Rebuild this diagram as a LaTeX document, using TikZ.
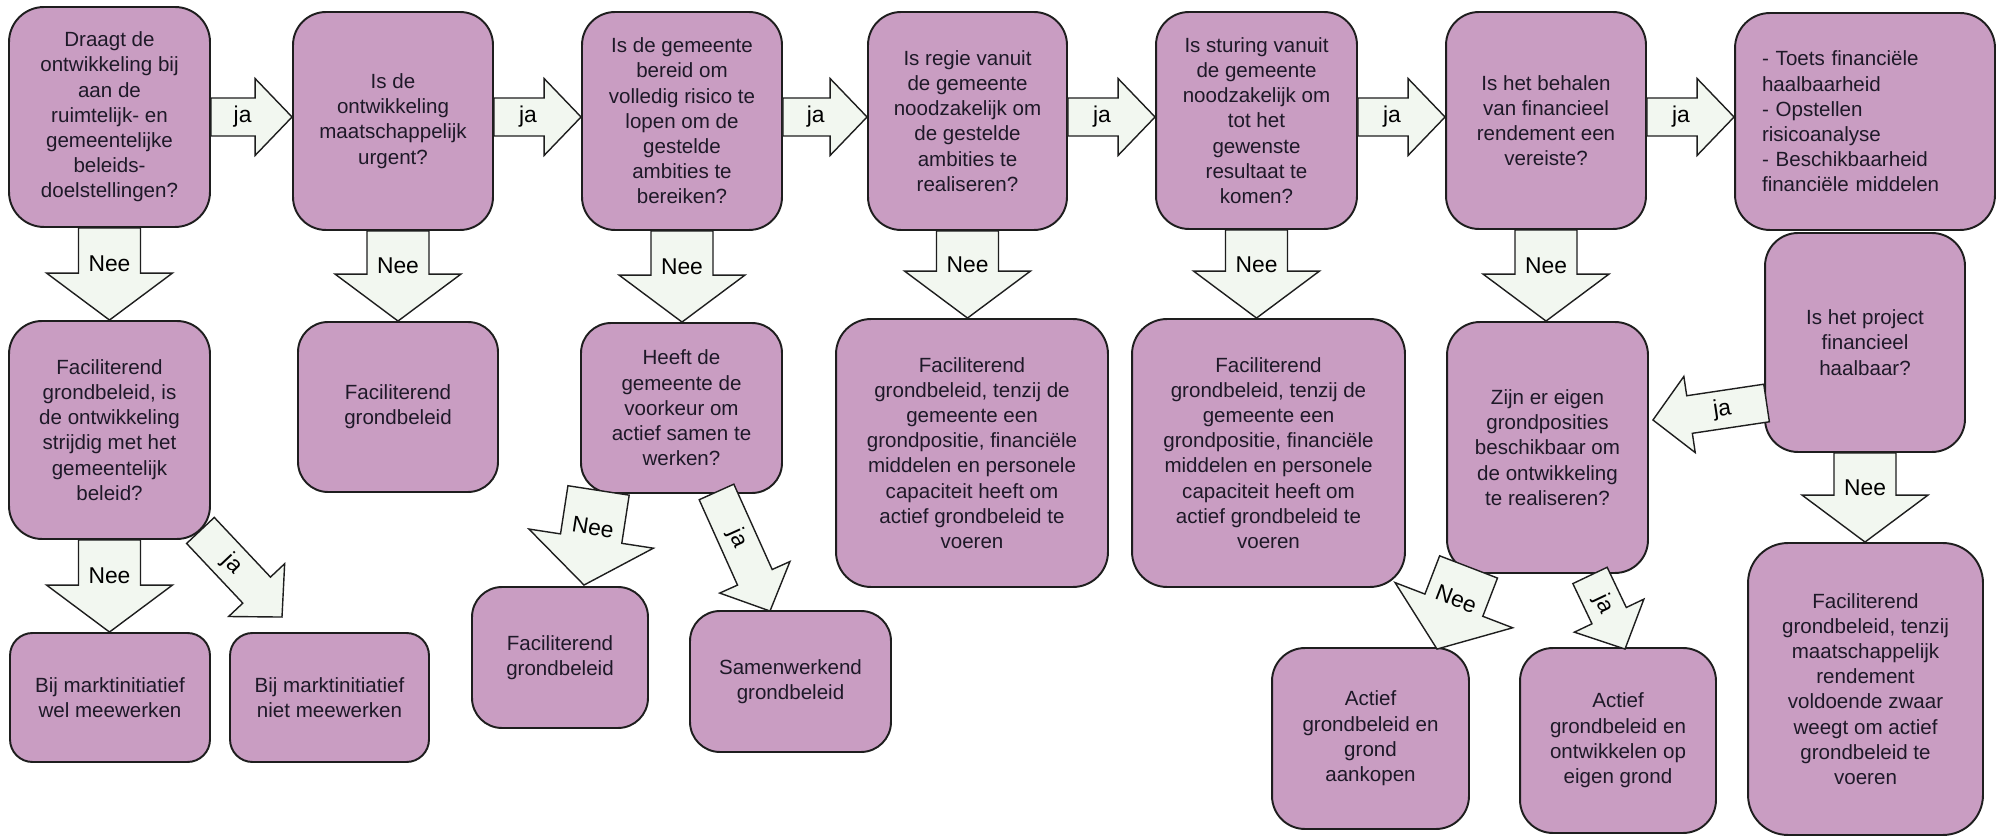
\documentclass[tikz,border=0pt]{standalone}
\usepackage{fontspec}
\setmainfont{Liberation Sans}
\usetikzlibrary{calc}
\definecolor{boxfill}{RGB}{201,157,194}
\definecolor{arrowfill}{RGB}{242,247,240}
\definecolor{inkline}{RGB}{30,30,30}
\definecolor{inktext}{RGB}{30,25,40}
\tikzset{
	keuze/.style={draw=inkline, line width=1.1pt, fill=boxfill, rounded corners=0.66cm, align=center, text=inktext, inner sep=0pt, font=\fontsize{11.7}{14.35}\selectfont},
	blockarrow/.style={draw=inkline, line width=0.8pt, fill=arrowfill},
	arrowlabel/.style={text=black, inner sep=0pt, font=\fontsize{13}{15}\selectfont}
}
% block arrow: [half shaft:half head:head length](from)(to){label}{extra label rotation}
\def\blockarr[#1:#2:#3](#4)(#5)#6#7{%
	\coordinate (ba-a) at (#4);
	\coordinate (ba-b) at (#5);
	\coordinate (ba-h) at ($(ba-b)!#3!(ba-a)$);
	\draw[blockarrow] ($(ba-a)!#1!90:(ba-b)$) -- ($(ba-h)!#1!90:(ba-b)$) -- ($(ba-h)!#2!90:(ba-b)$) -- (ba-b)
		-- ($(ba-h)!#2!-90:(ba-b)$) -- ($(ba-h)!#1!-90:(ba-b)$) -- ($(ba-a)!#1!-90:(ba-b)$) -- cycle;
	\path let \p1=($(ba-b)-(ba-a)$), \n1={atan2(\y1,\x1)+#7} in
		node[arrowlabel, rotate=\n1] at ($(ba-a)!0.39!(ba-b)$) {#6};
}
\def\jaarr(#1)(#2)#3{\blockarr[0.38cm:0.77cm:0.74cm](#1)(#2){ja}{#3}}
\def\neearr(#1)(#2){\blockarr[0.62cm:1.26cm:0.94cm](#1)(#2){Nee}{90}}

\begin{document}
\begin{tikzpicture}[x=0.02cm, y=-0.02cm]
			%%%%% START %%%%%
			
			\useasboundingbox (0,0) rectangle (1998,837);
			\fill[white] (0,0) rectangle (1998,837);
			
			% top row of questions
			\node[keuze, minimum width=4.02cm, minimum height=4.40cm, rounded corners=0.7cm] (q1) at (109.5,117) {Draagt de\\ontwikkeling bij\\aan de\\ruimtelijk- en\\gemeentelijke\\beleids-\\doelstellingen?};
			\node[keuze, minimum width=4.00cm, minimum height=4.36cm] (q2) at (393,121) {Is de\\ontwikkeling\\maatschappelijk\\urgent?};
			\node[keuze, minimum width=4.00cm, minimum height=4.36cm] (q3) at (682,121) {Is de gemeente\\bereid om\\volledig risico te\\lopen om de\\gestelde\\ambities te\\bereiken?};
			\node[keuze, minimum width=3.98cm, minimum height=4.36cm] (q4) at (967.5,121) {Is regie vanuit\\de gemeente\\noodzakelijk om\\de gestelde\\ambities te\\realiseren?};
			\node[keuze, minimum width=4.02cm, minimum height=4.34cm] (q5) at (1256.5,120.5) {Is sturing vanuit\\de gemeente\\noodzakelijk om\\tot het\\gewenste\\resultaat te\\komen?};
			\node[keuze, minimum width=4.00cm, minimum height=4.34cm] (q6) at (1546,120.5) {Is het behalen\\van financieel\\rendement een\\vereiste?};
			\node[keuze, minimum width=5.20cm, minimum height=4.34cm, rounded corners=0.7cm, align=left, text width=4.12cm] (q7) at (1865,121.5) {- Toets financiële\\haalbaarheid\\- Opstellen\\risicoanalyse\\- Beschikbaarheid\\financiële middelen};
			\node[keuze, minimum width=4.00cm, minimum height=4.38cm] (q8) at (1865,342.5) {Is het project\\financieel\\haalbaar?};
			
			% second and third row
			\node[keuze, minimum width=4.02cm, minimum height=4.36cm] (r1) at (109.5,430) {Faciliterend\\grondbeleid, is\\de ontwikkeling\\strijdig met het\\gemeentelijk\\beleid?};
			\node[keuze, minimum width=4.00cm, minimum height=3.40cm, rounded corners=0.6cm] (r2) at (398,407) {Faciliterend\\grondbeleid};
			\node[keuze, minimum width=4.00cm, minimum height=2.58cm, rounded corners=0.45cm] (r1a) at (110,697.5) {Bij marktinitiatief\\wel meewerken};
			\node[keuze, minimum width=3.98cm, minimum height=2.58cm, rounded corners=0.45cm] (r1b) at (329.5,697.5) {Bij marktinitiatief\\niet meewerken};
			\node[keuze, minimum width=4.02cm, minimum height=3.40cm, rounded corners=0.6cm] (q3b) at (681.5,408) {Heeft de\\gemeente de\\voorkeur om\\actief samen te\\werken?};
			\node[keuze, minimum width=3.52cm, minimum height=2.82cm, rounded corners=0.6cm] (r3a) at (560,657.5) {Faciliterend\\grondbeleid};
			\node[keuze, minimum width=4.02cm, minimum height=2.82cm, rounded corners=0.6cm] (r3b) at (790.5,681.5) {Samenwerkend\\grondbeleid};
			\node[keuze, minimum width=5.44cm, minimum height=5.36cm, rounded corners=0.7cm] (r4) at (972,453) {Faciliterend\\grondbeleid, tenzij de\\gemeente een\\grondpositie, financiële\\middelen en personele\\capaciteit heeft om\\actief grondbeleid te\\voeren};
			\node[keuze, minimum width=5.46cm, minimum height=5.36cm, rounded corners=0.7cm] (r5) at (1268.5,453) {Faciliterend\\grondbeleid, tenzij de\\gemeente een\\grondpositie, financiële\\middelen en personele\\capaciteit heeft om\\actief grondbeleid te\\voeren};
			\node[keuze, minimum width=4.02cm, minimum height=5.02cm] (r6) at (1547.5,447.5) {Zijn er eigen\\grondposities\\beschikbaar om\\de ontwikkeling\\te realiseren?};
			\node[keuze, minimum width=3.94cm, minimum height=3.62cm] (r7a) at (1370.5,738.5) {Actief\\grondbeleid en\\grond\\aankopen};
			\node[keuze, minimum width=3.92cm, minimum height=3.70cm] (r7b) at (1618,740.5) {Actief\\grondbeleid en\\ontwikkelen op\\eigen grond};
			\node[keuze, minimum width=4.70cm, minimum height=5.84cm, rounded corners=0.8cm] (r8) at (1865.5,689) {Faciliterend\\grondbeleid, tenzij\\maatschappelijk\\rendement\\voldoende zwaar\\weegt om actief\\grondbeleid te\\voeren};
			
			% ja arrows along the top
			\coordinate (jarow) at (0,117);
			\jaarr(q1.east |- jarow)(q2.west |- jarow){0}
			\jaarr(q2.east |- jarow)(q3.west |- jarow){0}
			\jaarr(q3.east |- jarow)(q4.west |- jarow){0}
			\jaarr(q4.east |- jarow)(q5.west |- jarow){0}
			\jaarr(q5.east |- jarow)(q6.west |- jarow){0}
			\jaarr(q6.east |- jarow)(q7.west |- jarow){0}
			
			% Nee arrows straight down
			\neearr(q1.south)(r1.north)
			\neearr(q2.south -| r2.north)(r2.north)
			\neearr(q3.south)(q3.south |- q3b.north)
			\neearr(q4.south)(q4.south |- r4.north)
			\neearr(q5.south)(q5.south |- r5.north)
			\neearr(q6.south)(q6.south |- r6.north)
			\neearr(r1.south)(r1.south |- r1a.north)
			\neearr(q8.south)(q8.south |- r8.north)
			
			% slanted arrows
			\coordinate (r1-ja) at ($(r1.south east)+(-10.5,-9.5)$);
			\coordinate (r1b-in) at ($(r1b.north)+(-47.5,-15)$);
			\jaarr(r1-ja)(r1b-in){0}
			
			\coordinate (q3b-nee) at ($(q3b.south west)+(18.5,-3.5)$);
			\coordinate (r3a-in) at ($(r3a.north)+(24,-1)$);
			\neearr(q3b-nee)(r3a-in)
			\coordinate (q3b-ja) at ($(q3b.south)+(35,-2)$);
			\coordinate (r3b-in) at ($(r3b.north)+(-20.5,1)$);
			\jaarr(q3b-ja)(r3b-in){0}
			
			\coordinate (q8-ja) at ($(q8.west)+(2.5,60.5)$);
			\coordinate (r6-in) at ($(r6.east)+(4,-27.5)$);
			\jaarr(q8-ja)(r6-in){180}
			
			\coordinate (r6-nee) at ($(r6.south west)+(22.5,-7)$);
			\coordinate (r7a-in) at ($(r7a.north)+(66.5,2)$);
			\neearr(r6-nee)(r7a-in)
			\coordinate (r6-ja) at ($(r6.south)+(42.5,1.5)$);
			\coordinate (r7b-in) at ($(r7b.north)+(7,2)$);
			\jaarr(r6-ja)(r7b-in){0}
			
			%%%%% END %%%%%
\end{tikzpicture}
\end{document}
